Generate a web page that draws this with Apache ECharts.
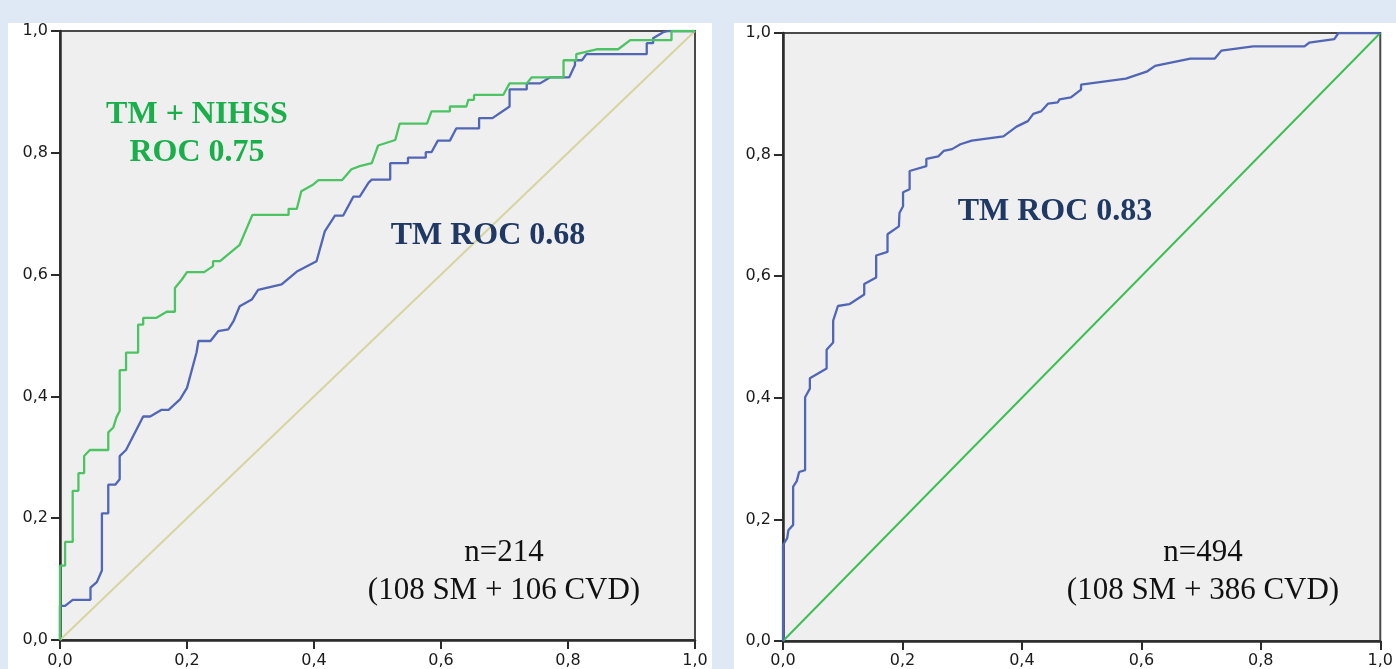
<!DOCTYPE html>
<html>
<head>
<meta charset="utf-8">
<script src="https://cdn.jsdelivr.net/npm/echarts@6/dist/echarts.min.js"></script>
<style>
  html, body { margin: 0; padding: 0; background: #dee9f5; }
  #main { width: 1396px; height: 669px; }
</style>
</head>
<body>
<div id="main"></div>
<script>
// left panel: n=214, TM vs TM + NIHSS  [fpr, tpr]
var leftNihss = [
  [0,0],[0,0.122],[0.008,0.122],[0.008,0.161],[0.02,0.161],[0.02,0.245],[0.029,0.245],[0.029,0.274],
  [0.038,0.274],[0.038,0.302],[0.047,0.312],[0.076,0.312],[0.076,0.341],[0.084,0.349],[0.089,0.366],
  [0.094,0.376],[0.094,0.443],[0.104,0.443],[0.104,0.472],[0.123,0.472],[0.123,0.518],[0.131,0.518],
  [0.131,0.529],[0.152,0.529],[0.168,0.539],[0.181,0.539],[0.181,0.578],[0.192,0.592],[0.2,0.604],
  [0.227,0.604],[0.241,0.614],[0.241,0.622],[0.252,0.622],[0.283,0.649],[0.303,0.698],[0.36,0.698],
  [0.36,0.708],[0.373,0.708],[0.38,0.737],[0.399,0.748],[0.407,0.755],[0.444,0.755],[0.459,0.773],
  [0.472,0.778],[0.491,0.783],[0.501,0.812],[0.528,0.821],[0.535,0.848],[0.578,0.848],[0.585,0.868],
  [0.614,0.868],[0.614,0.876],[0.64,0.876],[0.643,0.887],[0.652,0.887],[0.652,0.895],[0.698,0.895],
  [0.708,0.914],[0.735,0.914],[0.743,0.924],[0.793,0.924],[0.793,0.952],[0.813,0.952],[0.813,0.962],
  [0.845,0.97],[0.879,0.97],[0.898,0.985],[0.963,0.985],[0.963,1],[1,1]
];
var leftTm = [
  [0,0],[0,0.056],[0.008,0.056],[0.02,0.066],[0.048,0.066],[0.048,0.086],[0.058,0.095],[0.066,0.114],
  [0.066,0.208],[0.076,0.208],[0.076,0.255],[0.087,0.255],[0.094,0.264],[0.094,0.302],[0.104,0.312],
  [0.131,0.367],[0.142,0.367],[0.16,0.378],[0.171,0.378],[0.189,0.395],[0.2,0.414],[0.215,0.472],
  [0.218,0.491],[0.237,0.491],[0.249,0.507],[0.265,0.51],[0.273,0.523],[0.283,0.548],[0.302,0.559],
  [0.312,0.575],[0.349,0.584],[0.373,0.605],[0.404,0.622],[0.417,0.671],[0.433,0.697],[0.446,0.697],
  [0.462,0.728],[0.472,0.728],[0.486,0.751],[0.491,0.756],[0.52,0.756],[0.52,0.783],[0.548,0.783],
  [0.548,0.792],[0.576,0.792],[0.576,0.801],[0.585,0.801],[0.595,0.82],[0.614,0.82],[0.624,0.84],
  [0.66,0.84],[0.66,0.857],[0.681,0.857],[0.708,0.876],[0.708,0.904],[0.735,0.904],[0.735,0.914],
  [0.756,0.914],[0.772,0.924],[0.802,0.924],[0.811,0.944],[0.811,0.952],[0.822,0.952],[0.829,0.962],
  [0.924,0.962],[0.924,0.98],[0.934,0.98],[0.934,0.988],[0.95,0.998],[0.958,1],[1,1]
];
// right panel: n=494, TM only
var rightTm = [
  [0,0],[0,0.158],[0.007,0.169],[0.009,0.182],[0.017,0.191],[0.017,0.254],[0.023,0.263],[0.027,0.278],
  [0.037,0.281],[0.037,0.401],[0.045,0.415],[0.045,0.432],[0.073,0.448],[0.073,0.479],[0.084,0.491],
  [0.084,0.527],[0.092,0.551],[0.111,0.554],[0.136,0.57],[0.136,0.587],[0.156,0.598],[0.156,0.634],
  [0.175,0.64],[0.175,0.669],[0.194,0.682],[0.195,0.704],[0.201,0.715],[0.201,0.738],[0.212,0.743],
  [0.212,0.773],[0.24,0.781],[0.24,0.793],[0.26,0.797],[0.269,0.806],[0.283,0.809],[0.297,0.817],
  [0.316,0.823],[0.369,0.83],[0.391,0.846],[0.41,0.855],[0.419,0.867],[0.432,0.871],[0.444,0.884],
  [0.46,0.886],[0.463,0.891],[0.482,0.894],[0.499,0.907],[0.499,0.915],[0.574,0.925],[0.61,0.937],
  [0.623,0.946],[0.682,0.958],[0.723,0.958],[0.734,0.971],[0.787,0.978],[0.873,0.978],[0.881,0.984],
  [0.923,0.99],[0.93,1],[1,1]
];
var diagonal = [[0,0],[1,1]];
var ticks = [0, 0.2, 0.4, 0.6, 0.8, 1];

var chart = echarts.init(document.getElementById('main'));

function fmt(v) { return v.toFixed(1).replace('.', ','); }

function mkAxis(idx, margin) {
  return {
    type: 'value', gridIndex: idx, min: ticks[0], max: ticks[ticks.length - 1], interval: 0.2,
    axisLine: { lineStyle: { color: '#2b2b2b', width: 2.5 } },
    axisTick: { length: 9, lineStyle: { color: '#2b2b2b', width: 2 } },
    axisLabel: { formatter: fmt, color: '#1a1a1a', fontSize: 16, fontFamily: 'DejaVu Sans', margin: margin },
    splitLine: { show: false }
  };
}

function line(data, color, width, idx) {
  return {
    type: 'line', data: data, xAxisIndex: idx, yAxisIndex: idx,
    symbol: 'none', silent: true, animation: false,
    lineStyle: { color: color, width: width }
  };
}

var bold = 'bold 32px "Liberation Serif"';
var plain = '31px "Liberation Serif"';
function txt(s, x, y, font, color) {
  return { type: 'text', z: 100, style: { text: s, x: x, y: y, font: font, fill: color, textAlign: 'center', textVerticalAlign: 'middle' } };
}

option = {
  backgroundColor: '#dee9f5',
  animation: false,
  grid: [
    { left: 60, top: 31, width: 635, height: 610, show: true, backgroundColor: '#efefef', borderColor: '#4a4a4a', borderWidth: 2 },
    { left: 783, top: 33, width: 602, height: 610, show: true, backgroundColor: '#efefef', borderColor: '#4a4a4a', borderWidth: 2 }
  ],
  xAxis: [mkAxis(0, 13), mkAxis(1, 12)],
  yAxis: [mkAxis(0, 12), mkAxis(1, 12)],
  series: [
    line(diagonal, '#d8d4a2', 2, 0),
    line(leftTm, '#5266b6', 2.3, 0),
    line(leftNihss, '#4cc463', 2.3, 0),
    line(diagonal, '#3dbf55', 2, 1),
    line(rightTm, '#5266b6', 2.3, 1)
  ],
  graphic: [
    { type: 'rect', z: -100, shape: { x: 8, y: 23, width: 704, height: 646 }, style: { fill: '#fff' } },
    { type: 'rect', z: -100, shape: { x: 734, y: 23, width: 662, height: 646 }, style: { fill: '#fff' } },
    txt('TM + NIHSS', 197, 115, bold, '#1aaf4b'),
    txt('ROC 0.75', 197, 153, bold, '#1aaf4b'),
    txt('TM ROC 0.68', 488, 236, bold, '#1f3864'),
    txt('n=214', 504, 553, plain, '#111'),
    txt('(108 SM + 106 CVD)', 504, 591, plain, '#111'),
    txt('TM ROC 0.83', 1055, 212, bold, '#1f3864'),
    txt('n=494', 1203, 553, plain, '#111'),
    txt('(108 SM + 386 CVD)', 1203, 591, plain, '#111')
  ]
};
chart.setOption(option);
</script>
</body>
</html>
